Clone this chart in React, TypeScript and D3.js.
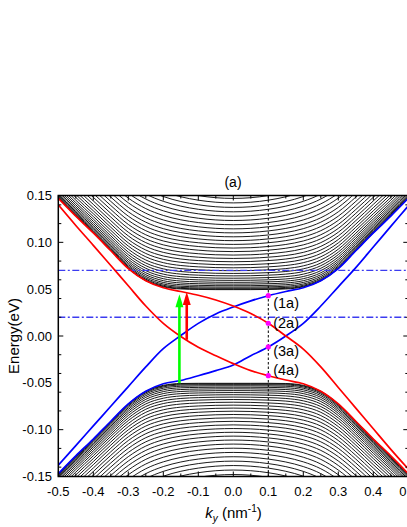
import React from 'react';
import * as d3 from 'd3';

// k grid (nm^-1) on which the curves were read
const kGrid = [-0.5, -0.45, -0.4, -0.35, -0.3, -0.25, -0.2, -0.15, -0.1, -0.05, 0, 0.05, 0.1, 0.15, 0.2, 0.25, 0.3, 0.35, 0.4, 0.45, 0.5];

// lowest conduction / highest valence bulk subband (envelope), eV
const cbEnvelope = [0.147, 0.128, 0.110, 0.091, 0.072, 0.059, 0.0525, 0.0502, 0.0497, 0.0495, 0.0495, 0.0495, 0.0497, 0.0502, 0.0525, 0.059, 0.072, 0.091, 0.110, 0.128, 0.147];
const vbEnvelope = [-0.147, -0.128, -0.110, -0.091, -0.0725, -0.059, -0.0527, -0.0507, -0.0505, -0.0505, -0.0505, -0.0505, -0.0505, -0.0507, -0.0527, -0.059, -0.0725, -0.091, -0.110, -0.128, -0.147];

// bulk subband energies at k = 0 (eV)
const cbLevels = [0.0495, 0.0501, 0.0510, 0.0522, 0.0537, 0.0554, 0.0573, 0.0594, 0.0617, 0.0642, 0.0668, 0.0697, 0.0728, 0.0760, 0.0793, 0.0828, 0.0864, 0.0901, 0.0939, 0.0978, 0.1018, 0.1059, 0.1101, 0.1144, 0.1188, 0.1233, 0.1279, 0.1326, 0.1373, 0.1421, 0.1469, 0.1517];
const vbLevels = [-0.0505, -0.0511, -0.0520, -0.0532, -0.0547, -0.0564, -0.0583, -0.0604, -0.0627, -0.0652, -0.0678, -0.0707, -0.0738, -0.0770, -0.0803, -0.0838, -0.0874, -0.0911, -0.0949, -0.0988, -0.1028, -0.1069, -0.1111, -0.1154, -0.1198, -0.1243, -0.1289, -0.1336, -0.1383, -0.1431, -0.1479, -0.1527];
// growth of the subband spacing with k (nm^2)
const spacingGrowth = 4.6;

// edge states
const redUpper = [0.147, 0.128, 0.110, 0.091, 0.072, 0.059, 0.0515, 0.0475, 0.0435, 0.0385, 0.032, 0.024, 0.0136, 0.000, -0.014, -0.033, -0.055, -0.077, -0.099, -0.121, -0.142];
const redLower = [0.140, 0.118, 0.0968, 0.0752, 0.0536, 0.032, 0.0135, -0.0005, -0.012, -0.021, -0.0295, -0.037, -0.0424, -0.047, -0.051, -0.059, -0.0725, -0.091, -0.110, -0.128, -0.147];
const blueUpper = [-0.138, -0.117, -0.096, -0.075, -0.054, -0.033, -0.0135, 0.0005, 0.0135, 0.0235, 0.031, 0.0375, 0.043, 0.0475, 0.0515, 0.059, 0.072, 0.091, 0.110, 0.128, 0.147];
const blueLower = [-0.147, -0.128, -0.110, -0.091, -0.0725, -0.059, -0.051, -0.0475, -0.0424, -0.037, -0.031, -0.021, -0.0117, 0.000, 0.0135, 0.032, 0.0525, 0.073, 0.095, 0.117, 0.139];

// reference lines
const fermiLevels = [0.07, 0.02];
const cutK = 0.1;
const pointEnergies = [0.043, 0.0136, -0.0117, -0.0424];
const pointLabels = ['(1a)', '(2a)', '(3a)', '(4a)'];
const labelEnergies = [0.0349, 0.0136, -0.0157, -0.0363];
const labelK = 0.114;

// transitions
const greenArrow = { k: -0.154, from: -0.0505, to: 0.0445 };
const redArrow = { k: -0.133, from: -0.004, to: 0.047 };

const W = 407, H = 527;
const L = 58.3, R = 408.3, T = 195.5, B = 476.5;
const FONT = '"Liberation Sans", Arial, Helvetica, sans-serif';

const fmt = d3.formatLocale({ decimal: '.', thousands: ',', grouping: [3], currency: ['', ''], minus: '-' });

export default function App() {
  const x = d3.scaleLinear().domain([-0.5, 0.5]).range([L, R]);
  const y = d3.scaleLinear().domain([-0.15, 0.15]).range([B, T]);

  const line = d3.line<[number, number]>().x(d => x(d[0])).y(d => y(d[1])).curve(d3.curveMonotoneX);
  const edgeLine = d3.line<[number, number]>().x(d => x(d[0])).y(d => y(d[1])).curve(d3.curveCatmullRom.alpha(0.5));

  const subband = (level: number, env: number[], sign: number) => {
    const M = Math.abs(env[10]);
    const d2 = Math.max(level * level - M * M, 0);
    return kGrid.map((k, i) => [k, sign * Math.sqrt(env[i] * env[i] + d2 * (1 + spacingGrowth * k * k))] as [number, number]);
  };
  const bulk = [
    ...cbLevels.map(l => subband(l, cbEnvelope, 1)),
    ...vbLevels.map(l => subband(Math.abs(l), vbEnvelope, -1)),
  ];
  const pts = (arr: number[]) => kGrid.map((k, i) => [k, arr[i]] as [number, number]);

  const xMajor = x.ticks(10);
  const xMinor = x.ticks(20);
  const yMajor = y.ticks(6);
  const yMinor = y.ticks(12);
  const fx = fmt.format('.1f');
  const fy = fmt.format('.2f');

  const arrow = (a: { k: number; from: number; to: number }, color: string) => {
    const xx = x(a.k);
    const y0 = y(a.from), y1 = y(a.to);
    const hl = 13, hw = 4;
    return (
      <g>
        <line x1={xx} x2={xx} y1={y0} y2={y1 + hl - 1} stroke={color} strokeWidth={2.6} />
        <path d={`M${xx},${y1} L${xx - hw},${y1 + hl} L${xx + hw},${y1 + hl} Z`} fill={color} />
      </g>
    );
  };

  return (
    <svg width={W} height={H} style={{ position: 'absolute', left: 0, top: 0, background: '#fff' }} fontFamily={FONT}>
      <defs>
        <clipPath id="plot">
          <rect x={L} y={T} width={R - L} height={B - T} />
        </clipPath>
      </defs>
      <rect x={0} y={0} width={W} height={H} fill="#fff" />
      <g clipPath="url(#plot)">
        {bulk.map((d, i) => (
          <path key={i} d={line(d) || ''} fill="none" stroke="#000" strokeWidth={0.9} />
        ))}
        {fermiLevels.map((e, i) => (
          <line key={i} x1={L} x2={R} y1={y(e)} y2={y(e)} stroke="#3c3cf0" strokeWidth={1.3} strokeDasharray="7,2.5,2,2.5" />
        ))}
        <line x1={x(cutK)} x2={x(cutK)} y1={T} y2={B} stroke="#000" strokeWidth={1} strokeDasharray="2.5,2" />
        <path d={edgeLine(pts(blueUpper)) || ''} fill="none" stroke="#0000ff" strokeWidth={1.7} />
        <path d={edgeLine(pts(blueLower)) || ''} fill="none" stroke="#0000ff" strokeWidth={1.7} />
        <path d={edgeLine(pts(redUpper)) || ''} fill="none" stroke="#ff0000" strokeWidth={1.7} />
        <path d={edgeLine(pts(redLower)) || ''} fill="none" stroke="#ff0000" strokeWidth={1.7} />
        {arrow(greenArrow, '#00ff00')}
        {arrow(redArrow, '#ff0000')}
        {pointEnergies.map((e, i) => (
          <circle key={i} cx={x(cutK)} cy={y(e)} r={2.6} fill="#ff00ff" />
        ))}
      </g>
      {pointLabels.map((t, i) => (
        <text key={i} x={x(labelK)} y={y(labelEnergies[i])} dy="0.35em" fontSize={14.5}>{t}</text>
      ))}

      {/* frame */}
      <rect x={L} y={T} width={R - L} height={B - T} fill="none" stroke="#000" strokeWidth={1.5} />

      {/* ticks */}
      {xMinor.map((t, i) => {
        const major = xMajor.some(m => Math.abs(m - t) < 1e-9);
        const len = major ? 5 : 3;
        return (
          <g key={'xt' + i}>
            <line x1={x(t)} x2={x(t)} y1={B} y2={B - len} stroke="#000" strokeWidth={1} />
            <line x1={x(t)} x2={x(t)} y1={T} y2={T + len} stroke="#000" strokeWidth={1} />
          </g>
        );
      })}
      {yMinor.map((t, i) => {
        const major = yMajor.some(m => Math.abs(m - t) < 1e-9);
        const len = major ? 5 : 3;
        return (
          <g key={'yt' + i}>
            <line x1={L} x2={L + len} y1={y(t)} y2={y(t)} stroke="#000" strokeWidth={1} />
            <line x1={R} x2={R - len} y1={y(t)} y2={y(t)} stroke="#000" strokeWidth={1} />
          </g>
        );
      })}
      {xMajor.map((t, i) => (
        <text key={'xl' + i} x={x(t)} y={496} textAnchor="middle" fontSize={13}>{fx(t)}</text>
      ))}
      {yMajor.map((t, i) => (
        <text key={'yl' + i} x={52} y={y(t)} dy="0.35em" textAnchor="end" fontSize={13}>{fy(t)}</text>
      ))}

      <text x={233} y={187} textAnchor="middle" fontSize={14}>(a)</text>
      <text x={233.5} y={518} textAnchor="middle" fontSize={15}>
        <tspan fontStyle="italic">k</tspan>
        <tspan fontStyle="italic" fontSize={10} dy={4}>y</tspan>
        <tspan dy={-4}> (nm</tspan>
        <tspan fontSize={10} dy={-6}>-1</tspan>
        <tspan dy={6}>)</tspan>
      </text>
      <text transform={`translate(19,${(T + B) / 2}) rotate(-90)`} textAnchor="middle" fontSize={15}>Energy(eV)</text>
    </svg>
  );
}
